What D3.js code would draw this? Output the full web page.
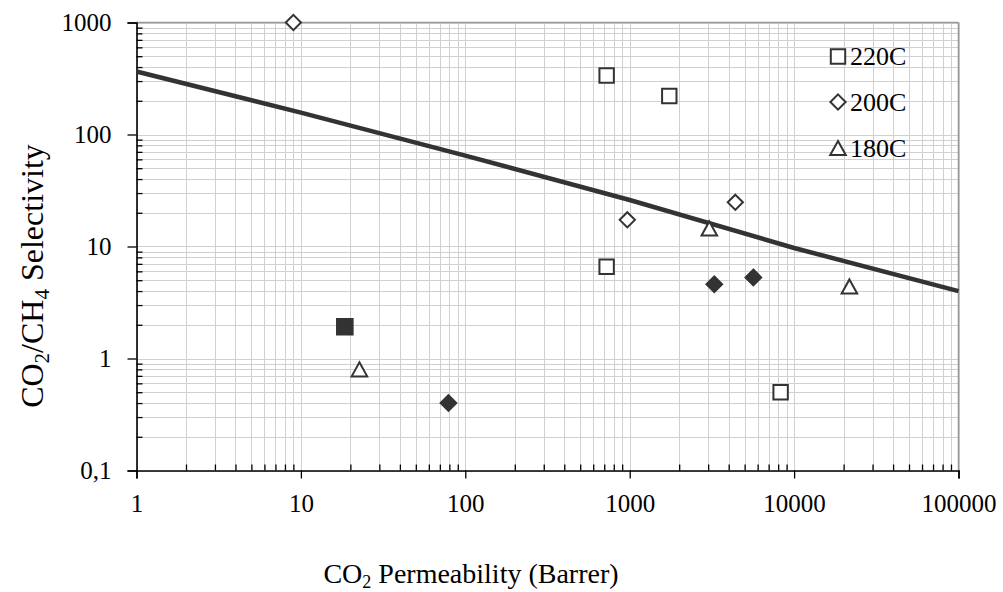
<!DOCTYPE html>
<html>
<head>
<meta charset="utf-8">
<script src="https://cdn.jsdelivr.net/npm/d3@7/dist/d3.min.js"></script>
<style>
  html, body { margin: 0; padding: 0; background: #fff; }
  svg { display: block; }
  text { font-family: "Liberation Serif", "Times New Roman", serif; fill: #000; }
</style>
</head>
<body>
<svg id="chart" width="1003" height="592"></svg>
<script>
// ---- Data ----
const xTickValues = [1, 10, 100, 1000, 10000, 100000];
const xTickLabels = ["1", "10", "100", "1000", "10000", "100000"];
const yTickValues = [0.1, 1, 10, 100, 1000];
const yTickLabels = ["0,1", "1", "10", "100", "1000"];

// 220C (open squares)
const perm220 = [724, 1741, 724, 8280];
const sel220  = [336, 221, 6.6, 0.5];
// 200C (open diamonds)
const perm200 = [9, 967, 4390];
const sel200  = [1000, 17.3, 24.8];
// 180C (open triangles)
const perm180 = [22.7, 3050, 21700];
const sel180  = [0.8, 14.5, 4.4];
// filled square
const permFilledSq = [18.5];
const selFilledSq  = [1.92];
// filled diamonds
const permFilledDia = [79, 3270, 5650];
const selFilledDia  = [0.4, 4.6, 5.3];
// upper bound line
const boundPerm = [1, 10, 100, 1000, 10000, 100000];
const boundSel  = [365, 157, 64.8, 26, 9.7, 4.0];

const legendLabels = ["220C", "200C", "180C"];
const legendShapes = ["square", "diamond", "triangle"];

(function () {
const svg = d3.select("#chart");
const pLeft = 136.5, pRight = 958.5, pTop = 22.5, pBottom = 470.5;
const x = d3.scaleLog().domain([1, 100000]).range([pLeft, pRight]);
const y = d3.scaleLog().domain([0.1, 1000]).range([pBottom, pTop]);
const markColor = "#333333";

svg.append("rect").attr("width", 1003).attr("height", 592).attr("fill", "#fff");

function minorVals(lo, hi) {
  const out = [];
  for (let e = Math.round(Math.log10(lo)); e < Math.round(Math.log10(hi)); e++) {
    for (let k = 1; k <= 9; k++) out.push(k * Math.pow(10, e));
  }
  out.push(hi);
  return out.map(v => +v.toPrecision(6));
}
const xAll = minorVals(1, 100000);
const yAll = minorVals(0.1, 1000);

const grid = svg.append("g");
grid.selectAll("line.v").data(xAll).join("line").attr("class", "v")
  .attr("x1", d => Math.round(x(d)) + 0.5).attr("x2", d => Math.round(x(d)) + 0.5)
  .attr("y1", pTop).attr("y2", pBottom)
  .attr("stroke", "#d0d0d0").attr("stroke-width", 1);
grid.selectAll("line.h").data(yAll).join("line").attr("class", "h")
  .attr("y1", d => Math.round(y(d)) + 0.5).attr("y2", d => Math.round(y(d)) + 0.5)
  .attr("x1", pLeft).attr("x2", pRight)
  .attr("stroke", "#d0d0d0").attr("stroke-width", 1);

svg.append("line").attr("x1", pLeft).attr("x2", pRight).attr("y1", pTop).attr("y2", pTop)
  .attr("stroke", "#999").attr("stroke-width", 1.5);
svg.append("line").attr("x1", pRight).attr("x2", pRight).attr("y1", pTop).attr("y2", pBottom)
  .attr("stroke", "#999").attr("stroke-width", 1.5);

const isTick = (arr, d) => arr.findIndex(v => Math.abs(v - d) < 1e-9 * Math.max(1, v));
const fmtX = d => { const i = isTick(xTickValues, d); return i >= 0 ? xTickLabels[i] : ""; };
const fmtY = d => { const i = isTick(yTickValues, d); return i >= 0 ? yTickLabels[i] : ""; };

const xMinor = xAll.filter(v => isTick(xTickValues, v) < 0);
svg.append("g").attr("transform", `translate(0,${pBottom})`)
  .call(d3.axisTop(x).tickValues(xMinor).tickSize(6).tickFormat(""))
  .call(g => g.select(".domain").remove())
  .call(g => g.selectAll("line").attr("stroke", "#000").attr("stroke-width", 1.3));
svg.append("g").attr("transform", `translate(0,${pBottom})`)
  .call(d3.axisBottom(x).tickValues(xTickValues).tickSize(8).tickPadding(16).tickFormat(fmtX))
  .call(g => g.select(".domain").attr("stroke", "#000").attr("stroke-width", 1.6))
  .call(g => g.selectAll("line").attr("stroke", "#000").attr("stroke-width", 1.3))
  .call(g => g.selectAll("text").attr("font-size", 25).attr("font-family", "Liberation Serif").attr("fill", "#000"));

const yMinor = yAll.filter(v => isTick(yTickValues, v) < 0);
svg.append("g").attr("transform", `translate(${pLeft},0)`)
  .call(d3.axisRight(y).tickValues(yMinor).tickSize(6).tickFormat(""))
  .call(g => g.select(".domain").remove())
  .call(g => g.selectAll("line").attr("stroke", "#000").attr("stroke-width", 1.3));
svg.append("g").attr("transform", `translate(${pLeft},0)`)
  .call(d3.axisLeft(y).tickValues(yTickValues).tickSize(9).tickPadding(16).tickFormat(fmtY))
  .call(g => g.select(".domain").attr("stroke", "#000").attr("stroke-width", 1.6))
  .call(g => g.selectAll("line").attr("stroke", "#000").attr("stroke-width", 1.3))
  .call(g => g.selectAll("text").attr("font-size", 25).attr("font-family", "Liberation Serif").attr("fill", "#000"));

const boundData = boundPerm.map((p, i) => [p, boundSel[i]]);
svg.append("path")
  .datum(boundData)
  .attr("d", d3.line().x(d => x(d[0])).y(d => y(d[1])))
  .attr("fill", "none").attr("stroke", markColor).attr("stroke-width", 4.5)
  .attr("stroke-linejoin", "round");

function shapePath(shape, s) {
  if (shape === "square") return `M${-s},${-s}H${s}V${s}H${-s}Z`;
  if (shape === "diamond") return `M0,${-s * 1.12}L${s * 1.12},0L0,${s * 1.12}L${-s * 1.12},0Z`;
  return `M0,${-s * 0.95}L${s * 1.05},${s * 0.95}L${-s * 1.05},${s * 0.95}Z`;
}
function drawSeries(perm, sel, shape, filled, size) {
  const data = perm.map((p, i) => [p, sel[i]]);
  svg.append("g").selectAll("path").data(data).join("path")
    .attr("transform", d => `translate(${x(d[0])},${y(d[1])})`)
    .attr("d", shapePath(shape, size))
    .attr("fill", filled ? markColor : "#fff")
    .attr("stroke", markColor).attr("stroke-width", 2);
}
drawSeries(perm220, sel220, "square", false, 7.2);
drawSeries(perm200, sel200, "diamond", false, 6.8);
drawSeries(perm180, sel180, "triangle", false, 7.4);
drawSeries(permFilledSq, selFilledSq, "square", true, 7.8);
drawSeries(permFilledDia, selFilledDia, "diamond", true, 7.0);

const legend = svg.append("g");
const legendY = [56.5, 102, 148];
const legendSizes = [7.2, 6.8, 7.4];
legendLabels.forEach((lab, i) => {
  legend.append("path")
    .attr("transform", `translate(838,${legendY[i]})`)
    .attr("d", shapePath(legendShapes[i], legendSizes[i]))
    .attr("fill", "#fff").attr("stroke", markColor).attr("stroke-width", 2);
  legend.append("text").attr("x", 850).attr("y", legendY[i] + 8.5)
    .attr("font-size", 26).text(lab);
});

const xt = svg.append("text").attr("x", 471).attr("y", 583)
  .attr("text-anchor", "middle").attr("font-size", 28);
xt.append("tspan").text("CO");
xt.append("tspan").attr("font-size", 18).attr("dy", 5).text("2");
xt.append("tspan").attr("dy", -5).text(" Permeability (Barrer)");

const yt = svg.append("text").attr("transform", "translate(43,276) rotate(-90)")
  .attr("text-anchor", "middle").attr("font-size", 32);
yt.append("tspan").text("CO");
yt.append("tspan").attr("font-size", 21).attr("dy", 6).text("2");
yt.append("tspan").attr("dy", -6).text("/CH");
yt.append("tspan").attr("font-size", 21).attr("dy", 6).text("4");
yt.append("tspan").attr("dy", -6).text(" Selectivity");
})();
</script>
</body>
</html>
